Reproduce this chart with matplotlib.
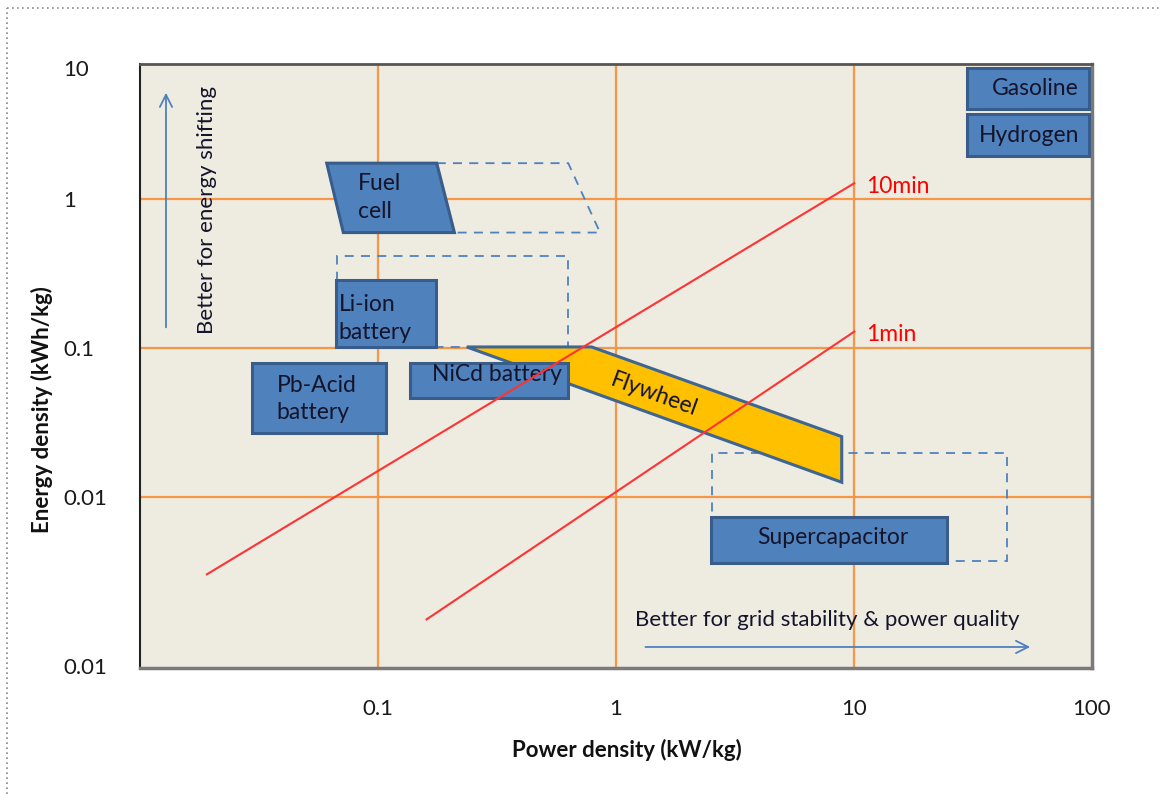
import matplotlib
matplotlib.use("Agg")
import matplotlib.pyplot as plt
from matplotlib.patches import Polygon, Rectangle
from matplotlib.lines import Line2D
import numpy as np

plt.rcParams["font.family"] = ["Lato", "DejaVu Sans"]

# rectangular regions: power density (kW/kg) and energy density (kWh/kg)
box_names = ["Pb-Acid\nbattery", "Li-ion\nbattery", "NiCd battery", "Supercapacitor", "Gasoline", "Hydrogen"]
box_p_lo = [0.0295, 0.0664, 0.136, 2.50, 29.9, 29.9]
box_p_hi = [0.108, 0.175, 0.630, 24.7, 97.1, 97.1]
box_e_lo = [0.0272, 0.1028, 0.0463, 0.00365, 4.05, 1.96]
box_e_hi = [0.0796, 0.288, 0.0796, 0.00743, 7.60, 3.73]

# fuel cell (parallelogram) and its dashed future extension
fuel_p = [0.0609, 0.1765, 0.2094, 0.0715]
fuel_e = [1.75, 1.75, 0.599, 0.599]
fuel_ext_p = [0.1765, 0.630, 0.857, 0.2094]
fuel_ext_e = [1.75, 1.75, 0.599, 0.599]

# dashed "potential" areas
liion_ext_p = [0.067, 0.630]
liion_ext_e = [0.1028, 0.418]
supercap_ext_p = [2.54, 43.8]
supercap_ext_e = [0.00377, 0.0200]

# flywheel band
fly_p = [0.236, 0.790, 8.88, 8.88]
fly_e = [0.1023, 0.1023, 0.0256, 0.01265]

# discharge time lines
min10_p = [0.0191, 10.03]
min10_e = [0.00305, 1.284]
min1_p = [0.160, 10.03]
min1_e = [0.00152, 0.1297]

x_ticks = [0.1, 1, 10, 100]
x_labels = ["0.1", "1", "10", "100"]
y_ticks = [7.63, 1, 0.1, 0.01, 0.00074]
y_labels = ["10", "1", "0.1", "0.01", "0.01"]

box_fill = "#4F81BD"
box_edge = "#385D8A"
grid_col = "#F79646"
txt_col = "#14142a"

fig = plt.figure(figsize=(11.6, 7.94), dpi=100)
ax = fig.add_axes([140 / 1160, 126.5 / 794, 952 / 1160, 603.5 / 794])
ax.set_xscale("log")
ax.set_yscale("log")
ax.set_xlim(0.01, 100)
ax.set_ylim(0.000723, 8.1)
ax.set_facecolor("#EEEBE1")

for v in [0.1, 1, 10]:
    ax.axvline(v, color=grid_col, lw=1.6, zorder=1)
for v in [1, 0.1, 0.01]:
    ax.axhline(v, color=grid_col, lw=1.6, zorder=1)

dash = dict(fill=False, edgecolor=box_fill, lw=1.3, ls=(0, (5, 4)), zorder=2)
ax.add_patch(Polygon(list(zip(fuel_ext_p, fuel_ext_e)), closed=False, **dash))
ax.add_patch(Rectangle((liion_ext_p[0], liion_ext_e[0]), liion_ext_p[1] - liion_ext_p[0],
                       liion_ext_e[1] - liion_ext_e[0], **dash))
ax.add_patch(Rectangle((supercap_ext_p[0], supercap_ext_e[0]), supercap_ext_p[1] - supercap_ext_p[0],
                       supercap_ext_e[1] - supercap_ext_e[0], **dash))

ax.add_patch(Polygon(list(zip(fly_p, fly_e)), closed=True, facecolor="#FFC000",
                     edgecolor="#3F6593", lw=2.2, zorder=3))
ax.add_patch(Polygon(list(zip(fuel_p, fuel_e)), closed=True, facecolor=box_fill,
                     edgecolor=box_edge, lw=2.2, zorder=4))

for i in range(len(box_names)):
    ax.add_patch(Rectangle((box_p_lo[i], box_e_lo[i]), box_p_hi[i] - box_p_lo[i],
                           box_e_hi[i] - box_e_lo[i], facecolor=box_fill,
                           edgecolor=box_edge, lw=2.2, zorder=4))

# labels inside boxes (anchor, pixel offset, alignment)
fs = 16.5
for i, name in enumerate(box_names):
    yc = np.sqrt(box_e_lo[i] * box_e_hi[i])
    if name.startswith("Pb"):
        xy, off, ha = (box_p_lo[i], yc), (25, -1), "left"
    elif name.startswith("Li"):
        xy, off, ha = (box_p_lo[i], yc), (3, -5), "left"
    elif name.startswith("NiCd"):
        xy, off, ha = (box_p_lo[i], yc), (22, 6), "left"
    elif name.startswith("Super"):
        xy, off, ha = (np.sqrt(box_p_lo[i] * box_p_hi[i]), yc), (4, 2), "center"
    else:
        xy, off, ha = (box_p_hi[i], yc), (-10, 0), "right"
    ax.annotate(name, xy=xy, xytext=off, textcoords="offset pixels", ha=ha, va="center",
                fontsize=fs, color=txt_col, linespacing=1.4, zorder=6)

ax.annotate("Fuel\ncell", xy=(fuel_p[3], np.sqrt(fuel_e[0] * fuel_e[2])), xytext=(15, 0),
            textcoords="offset pixels", ha="left", va="center", fontsize=fs,
            color=txt_col, linespacing=1.4, zorder=6)
ax.annotate("Flywheel", xy=(fly_p[1], fly_e[1]), xytext=(62, -48), textcoords="offset pixels",
            ha="center", va="center", rotation=-20, fontsize=fs, color=txt_col, zorder=6)

ax.plot(min10_p, min10_e, color="#FF3333", lw=1.5, zorder=7)
ax.plot(min1_p, min1_e, color="#FF3333", lw=1.5, zorder=7)
ax.annotate("10min", xy=(min10_p[1], min10_e[1]), xytext=(12, -3), textcoords="offset pixels",
            ha="left", va="center", fontsize=16.5, color="#FF0000")
ax.annotate("1min", xy=(min1_p[1], min1_e[1]), xytext=(12, -3), textcoords="offset pixels",
            ha="left", va="center", fontsize=16.5, color="#FF0000")

# direction arrows
ax.annotate("", xy=(0.0273, 0.957), xytext=(0.0273, 0.559), xycoords="axes fraction",
            arrowprops=dict(arrowstyle="->", color=box_fill, lw=1.3, mutation_scale=22))
ax.text(0.0704, 0.758, "Better for energy shifting", transform=ax.transAxes, rotation=90,
        ha="center", va="center", fontsize=16, color=txt_col)
ax.annotate("", xy=(0.938, 0.034), xytext=(0.528, 0.034), xycoords="axes fraction",
            arrowprops=dict(arrowstyle="->", color=box_fill, lw=1.3, mutation_scale=22))
ax.text(0.520, 0.079, "Better for grid stability & power quality", transform=ax.transAxes,
        ha="left", va="center", fontsize=16, color=txt_col)

ax.set_xticks(x_ticks)
ax.set_xticklabels(x_labels)
ax.set_yticks(y_ticks)
ax.set_yticklabels(y_labels)
ax.minorticks_off()
ax.tick_params(axis="x", length=0, pad=23, labelsize=16, labelcolor="#1a1a1a")
ax.tick_params(axis="y", length=0, pad=55, labelsize=16, labelcolor="#1a1a1a")
for lab in ax.get_yticklabels():
    lab.set_horizontalalignment("left")

ax.set_xlabel("Power density (kW/kg)", fontsize=16, fontweight="bold", color="#111111")
ax.set_ylabel("Energy density (kWh/kg)", fontsize=16, fontweight="bold", color="#111111")
ax.xaxis.set_label_coords(0.5116, -0.137)
ax.yaxis.set_label_coords(-0.103, 0.427)
ax.xaxis.label.set_va("center")
ax.yaxis.label.set_va("center")

ax.spines["left"].set_color("#222222")
ax.spines["left"].set_linewidth(1.5)
ax.spines["top"].set_color("#555555")
ax.spines["top"].set_linewidth(2)
for s in ["right", "bottom"]:
    ax.spines[s].set_color("#7a7a7a")
    ax.spines[s].set_linewidth(2.5)

# dotted frame around the chart
fig.add_artist(Line2D([7 / 1160, 1], [1 - 8 / 794, 1 - 8 / 794], color="#888888", lw=1.2, ls=(0, (1, 2))))
fig.add_artist(Line2D([7 / 1160, 7 / 1160], [0, 1 - 8 / 794], color="#888888", lw=1.2, ls=(0, (1, 2))))

fig.savefig("out.png", dpi=100, facecolor="white")
